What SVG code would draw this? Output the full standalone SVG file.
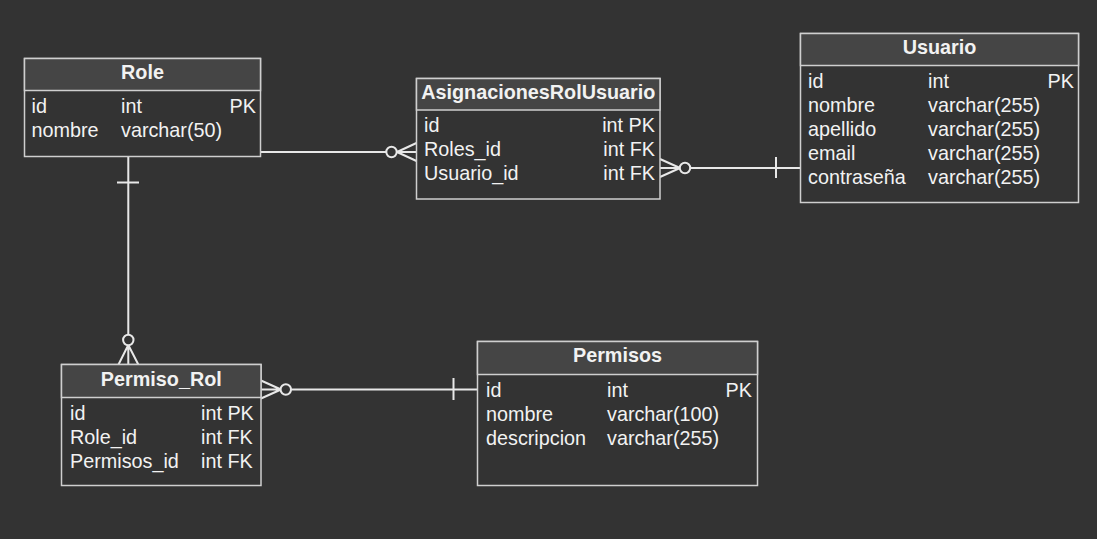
<svg xmlns="http://www.w3.org/2000/svg" width="1097" height="539" viewBox="0 0 1097 539">
<style>
.box{fill:#333333;stroke:#cfcfcf;stroke-width:1.5}
.hdr{fill:#454545;stroke:#cfcfcf;stroke-width:1.5}
.t{font-family:"Liberation Sans",Arial,sans-serif;font-size:19.8px;fill:#f2f2f2}
.h{font-family:"Liberation Sans",Arial,sans-serif;font-size:19.8px;font-weight:bold;fill:#f2f2f2;text-anchor:middle}
.e{text-anchor:end}
.c{fill:none;stroke:#e8e8e8;stroke-width:2}
.o{fill:#333333;stroke:#e8e8e8;stroke-width:2}
</style>
<rect width="1097" height="539" fill="#333333"/>
<g id="connectors">
  <!-- Role -> AsignacionesRolUsuario -->
  <path class="c" d="M261 152 H386.5 M397 152 L416.5 143 M397 152 H416.5 M397 152 L416.5 161"/>
  <circle class="o" cx="391.5" cy="152" r="5.2"/>
  <!-- AsignacionesRolUsuario -> Usuario -->
  <path class="c" d="M690 168 H800.5 M776 157 V178 M680 168 L660 159 M680 168 H660 M680 168 L660 177"/>
  <circle class="o" cx="685" cy="168" r="5.2"/>
  <!-- Permiso_Rol -> Permisos -->
  <path class="c" d="M291 389.5 H477.5 M453.5 378 V400 M281 389.5 L261 380.5 M281 389.5 H261 M281 389.5 L261 398.5"/>
  <circle class="o" cx="285.8" cy="389.5" r="5.2"/>
  <!-- Role -> Permiso_Rol -->
  <path class="c" d="M128.3 157 V335 M117 182.5 H139 M128.3 345 L118.5 364.5 M128.3 345 V364.5 M128.3 345 L138.3 364.5"/>
  <circle class="o" cx="128.3" cy="340" r="5.2"/>
</g>
<g id="role">
  <rect class="box" x="24.5" y="58.5" width="236" height="98"/>
  <rect class="hdr" x="24.5" y="58.5" width="236" height="32"/>
  <text class="h" x="142.5" y="79">Role</text>
  <text class="t" x="31.5" y="112.5">id</text>
  <text class="t" x="121" y="112.5">int</text>
  <text class="t e" x="256" y="112.5">PK</text>
  <text class="t" x="31.5" y="136.5">nombre</text>
  <text class="t" x="121" y="136.5">varchar(50)</text>
</g>
<g id="asignaciones">
  <rect class="box" x="416.5" y="78.5" width="243.5" height="120.5"/>
  <rect class="hdr" x="416.5" y="78.5" width="243.5" height="31.5"/>
  <text class="h" x="538.3" y="99">AsignacionesRolUsuario</text>
  <text class="t" x="424" y="132">id</text>
  <text class="t e" x="655" y="132">int PK</text>
  <text class="t" x="424" y="156">Roles_id</text>
  <text class="t e" x="655" y="156">int FK</text>
  <text class="t" x="424" y="180">Usuario_id</text>
  <text class="t e" x="655" y="180">int FK</text>
</g>
<g id="usuario">
  <rect class="box" x="800.5" y="33.5" width="278" height="169"/>
  <rect class="hdr" x="800.5" y="33.5" width="278" height="32"/>
  <text class="h" x="939.5" y="54">Usuario</text>
  <text class="t" x="808" y="88">id</text>
  <text class="t" x="928" y="88">int</text>
  <text class="t e" x="1074" y="88">PK</text>
  <text class="t" x="808" y="112">nombre</text>
  <text class="t" x="928" y="112">varchar(255)</text>
  <text class="t" x="808" y="136">apellido</text>
  <text class="t" x="928" y="136">varchar(255)</text>
  <text class="t" x="808" y="160">email</text>
  <text class="t" x="928" y="160">varchar(255)</text>
  <text class="t" x="808" y="184">contraseña</text>
  <text class="t" x="928" y="184">varchar(255)</text>
</g>
<g id="permiso_rol">
  <rect class="box" x="61.5" y="364.5" width="199.5" height="121"/>
  <rect class="hdr" x="61.5" y="364.5" width="199.5" height="33"/>
  <text class="h" x="161.3" y="385.7">Permiso_Rol</text>
  <text class="t" x="70" y="419.5">id</text>
  <text class="t" x="201" y="419.5">int PK</text>
  <text class="t" x="70" y="443.5">Role_id</text>
  <text class="t" x="201" y="443.5">int FK</text>
  <text class="t" x="70" y="467.5">Permisos_id</text>
  <text class="t" x="201" y="467.5">int FK</text>
</g>
<g id="permisos">
  <rect class="box" x="477.5" y="341.5" width="280" height="144"/>
  <rect class="hdr" x="477.5" y="341.5" width="280" height="33"/>
  <text class="h" x="617.5" y="361.7">Permisos</text>
  <text class="t" x="486" y="396.5">id</text>
  <text class="t" x="607" y="396.5">int</text>
  <text class="t e" x="752" y="396.5">PK</text>
  <text class="t" x="486" y="420.5">nombre</text>
  <text class="t" x="607" y="420.5">varchar(100)</text>
  <text class="t" x="486" y="444.5">descripcion</text>
  <text class="t" x="607" y="444.5">varchar(255)</text>
</g>
</svg>
